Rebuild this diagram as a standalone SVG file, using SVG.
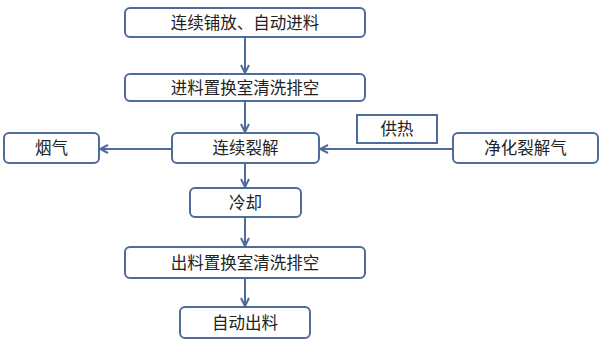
<svg xmlns="http://www.w3.org/2000/svg" width="600" height="342" viewBox="0 0 600 342">
<defs>
<style>
.b{fill:#fff;stroke:#4f6b9a;stroke-width:2}
.t{font-family:"Liberation Sans","Noto Sans CJK SC",sans-serif;font-size:16.5px;fill:#222;text-anchor:middle;dominant-baseline:central}
.c{stroke:#4f6b9a;stroke-width:2;fill:none;marker-end:url(#a)}
</style>
<marker id="a" viewBox="0 0 10 10" refX="9" refY="5" markerWidth="5" markerHeight="5" orient="auto" markerUnits="strokeWidth">
<path d="M1,1 L9,5 L1,9" fill="none" stroke="#4f6b9a" stroke-width="2"/>
</marker>
</defs>
<rect width="600" height="342" fill="#fff"/>
<g id="connectors">
<line class="c" x1="245" y1="37" x2="245" y2="73"/>
<line class="c" x1="245" y1="101" x2="245" y2="132"/>
<line class="c" x1="172" y1="149" x2="100" y2="149"/>
<line class="c" x1="453" y1="149" x2="320" y2="149"/>
<line class="c" x1="245" y1="163" x2="245" y2="187"/>
<line class="c" x1="245" y1="217" x2="245" y2="246"/>
<line class="c" x1="245" y1="278" x2="245" y2="306"/>
</g>
<g id="n1"><rect class="b" x="125" y="8" width="240" height="29" rx="5"/><text class="t" x="245" y="22.5">连续铺放、自动进料</text></g>
<g id="n2"><rect class="b" x="125" y="74" width="240" height="27" rx="5"/><text class="t" x="245" y="87.5">进料置换室清洗排空</text></g>
<g id="n3"><rect class="b" x="172" y="133" width="147" height="30" rx="5"/><text class="t" x="245.5" y="148">连续裂解</text></g>
<g id="n4"><rect class="b" x="4" y="133" width="95" height="30" rx="5"/><text class="t" x="51.5" y="148">烟气</text></g>
<g id="n5"><rect class="b" x="357" y="115" width="80" height="28"/><text class="t" x="397" y="129">供热</text></g>
<g id="n6"><rect class="b" x="453" y="133" width="145" height="30" rx="5"/><text class="t" x="525.5" y="148">净化裂解气</text></g>
<g id="n7"><rect class="b" x="190" y="188" width="111" height="29" rx="5"/><text class="t" x="245.5" y="202.5">冷却</text></g>
<g id="n8"><rect class="b" x="125" y="247" width="240" height="31" rx="5"/><text class="t" x="245" y="262.5">出料置换室清洗排空</text></g>
<g id="n9"><rect class="b" x="180" y="307" width="130" height="31" rx="5"/><text class="t" x="245" y="322.5">自动出料</text></g>
</svg>
